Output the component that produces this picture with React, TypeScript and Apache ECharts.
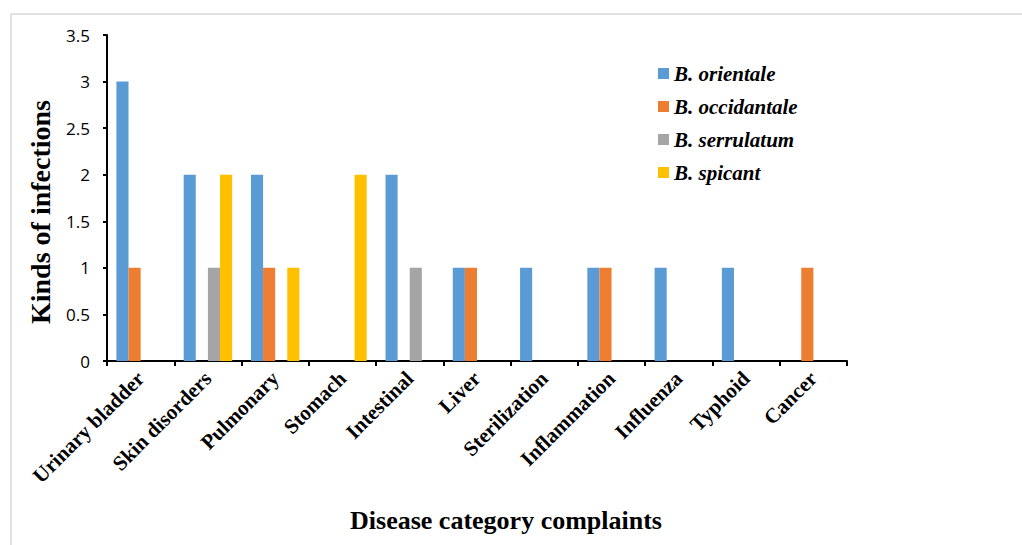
import React, { useEffect, useRef } from "react";
import * as echarts from "echarts";

const categories = [
  "Urinary bladder",
  "Skin disorders",
  "Pulmonary",
  "Stomach",
  "Intestinal",
  "Liver",
  "Sterilization",
  "Inflammation",
  "Influenza",
  "Typhoid",
  "Cancer",
];
const seriesNames = ["B. orientale", "B. occidantale", "B. serrulatum", "B. spicant"];
const orientale = [3, 2, 2, 0, 2, 1, 1, 1, 1, 1, 0];
const occidantale = [1, 0, 1, 0, 0, 1, 0, 1, 0, 0, 1];
const serrulatum = [0, 1, 0, 0, 1, 0, 0, 0, 0, 0, 0];
const spicant = [0, 2, 1, 2, 0, 0, 0, 0, 0, 0, 0];
const colors = ["#5B9BD5", "#ED7D31", "#A5A5A5", "#FFC000"];

export default function App() {
  const ref = useRef<HTMLDivElement>(null);
  useEffect(() => {
    if (!ref.current) return;
    const chart = echarts.init(ref.current, null, { renderer: "svg" });
    const values = [orientale, occidantale, serrulatum, spicant];
    chart.setOption({
      animation: false,
      backgroundColor: "#ffffff",
      color: colors,
      graphic: [
        {
          type: "rect",
          shape: { x: 11, y: 14, width: 1030, height: 560 },
          style: { fill: "none", stroke: "#d9d9d9", lineWidth: 1.5 },
          silent: true,
        },
      ],
      legend: {
        orient: "vertical",
        left: 653,
        top: 58,
        itemWidth: 11,
        itemHeight: 11,
        itemGap: 12,
        icon: "rect",
        textStyle: {
          fontFamily: "Liberation Serif",
          fontStyle: "italic",
          fontWeight: "bold",
          fontSize: 21,
          color: "#000",
        },
        data: seriesNames,
      },
      grid: { left: 107, right: 175, top: 35, bottom: 184 },
      xAxis: {
        type: "category",
        data: categories,
        name: "Disease category complaints",
        nameLocation: "middle",
        nameGap: 146,
        nameTextStyle: {
          fontFamily: "Liberation Serif",
          fontWeight: "bold",
          fontSize: 26,
          color: "#000",
          padding: [0, 0, 0, 58],
        },
        axisLine: { lineStyle: { color: "#000", width: 2 } },
        axisTick: { show: true, length: 5, lineStyle: { color: "#000", width: 2 } },
        axisLabel: {
          rotate: 45,
          interval: 0,
          margin: 14,
          fontFamily: "Liberation Serif",
          fontWeight: "bold",
          fontSize: 21,
          color: "#000",
        },
      },
      yAxis: {
        type: "value",
        min: 0,
        max: 3.5,
        interval: 0.5,
        name: "Kinds of infections",
        nameLocation: "middle",
        nameGap: 53,
        nameRotate: 90,
        nameTextStyle: {
          fontFamily: "Liberation Serif",
          fontWeight: "bold",
          fontSize: 28,
          color: "#000",
          padding: [0, 28, 0, 0],
        },
        axisLine: { show: true, lineStyle: { color: "#000", width: 2 } },
        axisTick: { show: true, length: 4, lineStyle: { color: "#000", width: 2 } },
        splitLine: { show: false },
        axisLabel: {
          margin: 17,
          fontFamily: "Open Sans",
          fontSize: 17,
          color: "#000",
        },
      },
      series: seriesNames.map((name, i) => ({
        name,
        type: "bar",
        data: values[i],
        barGap: "0%",
        barCategoryGap: "28%",
        itemStyle: { color: colors[i] },
      })),
    });
    return () => chart.dispose();
  }, []);
  return (
    <div
      ref={ref}
      style={{ position: "fixed", left: 0, top: 0, width: 1022, height: 545 }}
    />
  );
}
